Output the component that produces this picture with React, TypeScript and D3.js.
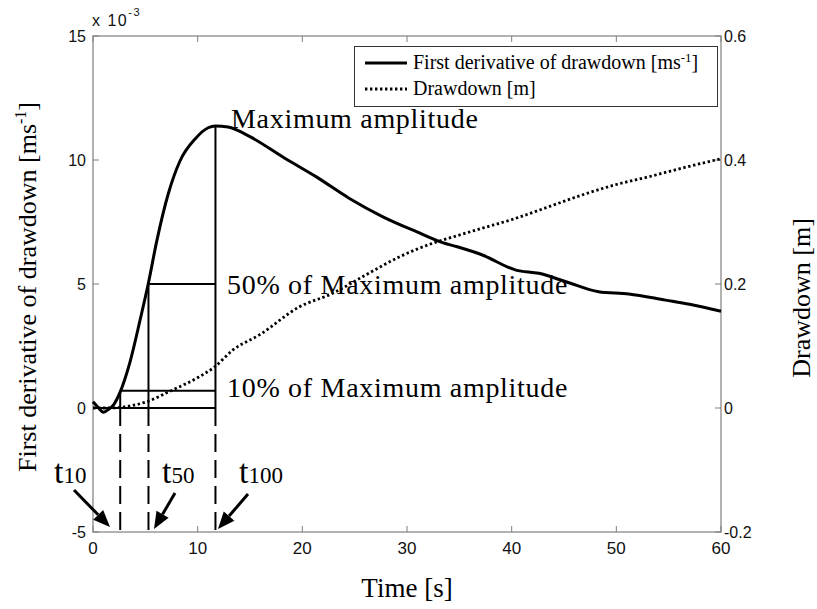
import React from "react";
import * as d3 from "d3";

// Time axis and data
const xTicks = [0, 10, 20, 30, 40, 50, 60];
const leftTicks = [-5, 0, 5, 10, 15];
const rightTicks = [-0.2, 0, 0.2, 0.4, 0.6];

// First derivative of drawdown (x 10^-3 m/s)
const derivTime = [0, 0.5, 1, 1.5, 2, 2.6, 3.5, 4.5, 5.3, 6.1, 7.2, 8.3, 9.8, 11.0, 11.7, 12.9, 15.0, 18.1, 21.3, 24.5, 27.7, 30.9, 33.4, 34.8, 37.2, 40.4, 42.6, 45.2, 48.3, 51.2, 54.7, 57.0, 60.0];
const derivValue = [0.25, 0.02, -0.17, -0.05, 0.15, 0.65, 1.8, 3.55, 5.05, 6.75, 8.65, 9.95, 10.87, 11.3, 11.37, 11.33, 10.94, 10.13, 9.33, 8.45, 7.71, 7.11, 6.67, 6.5, 6.17, 5.56, 5.43, 5.09, 4.69, 4.6, 4.35, 4.18, 3.9];

// Drawdown (m)
const drawTime = [0, 1.5, 2.6, 5.1, 7.6, 9.9, 11.6, 13.4, 15.9, 19.7, 22.9, 26.1, 29.3, 32.5, 35.0, 37.2, 40.4, 43.6, 46.8, 49.9, 53.1, 56.3, 60.0];
const drawValue = [0, 0, 0.001, 0.01, 0.029, 0.048, 0.066, 0.094, 0.118, 0.163, 0.185, 0.215, 0.244, 0.266, 0.279, 0.29, 0.306, 0.325, 0.344, 0.36, 0.373, 0.387, 0.402];

// Characteristic times and levels
const markTimes = [2.6, 5.3, 11.7]; // t10, t50, t100
const markLevels = [0.7, 5.0, 11.37]; // 10%, 50%, max
const markNames = ["10", "50", "100"];

const W = 817, H = 609;
const x = d3.scaleLinear().domain([0, 60]).range([93, 721]);
const yL = d3.scaleLinear().domain([-5, 15]).range([532, 36]);
const yR = d3.scaleLinear().domain([-0.2, 0.6]).range([532, 36]);

const SERIF = "'Liberation Serif', 'Times New Roman', serif";
const SANS = "'Liberation Sans', Arial, sans-serif";
const AX = "#7f7f7f";

function Arrow({ x1, y1, x2, y2 }: { x1: number; y1: number; x2: number; y2: number }) {
  const a = Math.atan2(y2 - y1, x2 - x1);
  const len = 17, half = 7;
  const bx = x2 - len * Math.cos(a), by = y2 - len * Math.sin(a);
  const px = -Math.sin(a) * half, py = Math.cos(a) * half;
  return (
    <g>
      <line x1={x1} y1={y1} x2={bx} y2={by} stroke="#000" strokeWidth={3} />
      <polygon points={`${x2},${y2} ${bx + px},${by + py} ${bx - px},${by - py}`} fill="#000" />
    </g>
  );
}

export default function App() {
  const derivLine = d3
    .line<number>()
    .x((_, i) => x(derivTime[i]))
    .y((d) => yL(d))
    .curve(d3.curveMonotoneX)(derivValue) as string;
  const drawLine = d3
    .line<number>()
    .x((_, i) => x(drawTime[i]))
    .y((d) => yR(d))
    .curve(d3.curveMonotoneX)(drawValue) as string;

  const y0 = yL(0);
  const yBottom = yL(-5);
  const [t10, t50, t100] = markTimes;
  const [l10, l50, lmax] = markLevels;

  return (
    <svg width={W} height={H} style={{ position: "absolute", left: 0, top: 0, background: "#fff" }}>
      <rect x={0} y={0} width={W} height={H} fill="#fff" />
      {/* axes box */}
      <rect x={x(0)} y={yL(15)} width={x(60) - x(0)} height={yL(-5) - yL(15)} fill="none" stroke={AX} strokeWidth={1.2} />
      {/* x ticks */}
      {xTicks.map((t) => (
        <g key={"xt" + t}>
          <line x1={x(t)} x2={x(t)} y1={yBottom} y2={yBottom - 6} stroke={AX} strokeWidth={1} />
          <line x1={x(t)} x2={x(t)} y1={yL(15)} y2={yL(15) + 6} stroke={AX} strokeWidth={1} />
          <text x={x(t)} y={yBottom + 22} textAnchor="middle" fontFamily={SANS} fontSize={17} fill="#111">
            {t}
          </text>
        </g>
      ))}
      {leftTicks.map((v) => (
        <g key={"yl" + v}>
          <line x1={x(0)} x2={x(0) + 6} y1={yL(v)} y2={yL(v)} stroke={AX} strokeWidth={1} />
          <text x={x(0) - 7} y={yL(v) + 6} textAnchor="end" fontFamily={SANS} fontSize={16} fill="#111">
            {v}
          </text>
        </g>
      ))}
      {rightTicks.map((v) => (
        <g key={"yr" + v}>
          <line x1={x(60)} x2={x(60) - 6} y1={yR(v)} y2={yR(v)} stroke={AX} strokeWidth={1} />
          <text x={x(60) + 3} y={yR(v) + 6} textAnchor="start" fontFamily={SANS} fontSize={16} fill="#111">
            {v}
          </text>
        </g>
      ))}
      {/* exponent */}
      <text x={x(0) - 1} y={26} fontFamily={SANS} fontSize={16} letterSpacing={1.5} fill="#111">
        x 10
        <tspan fontSize={11} dy={-10}>-3</tspan>
      </text>

      {/* marker lines */}
      <line x1={x(0)} x2={x(t100)} y1={y0} y2={y0} stroke="#000" strokeWidth={2} />
      <line x1={x(t10)} x2={x(t100)} y1={yL(l10)} y2={yL(l10)} stroke="#000" strokeWidth={2} />
      <line x1={x(t50)} x2={x(t100)} y1={yL(l50)} y2={yL(l50)} stroke="#000" strokeWidth={2} />
      <line x1={x(t10)} x2={x(t10)} y1={yL(l10)} y2={y0} stroke="#000" strokeWidth={2} />
      <line x1={x(t50)} x2={x(t50)} y1={yL(l50)} y2={y0} stroke="#000" strokeWidth={2} />
      <line x1={x(t100)} x2={x(t100)} y1={yL(lmax)} y2={y0} stroke="#000" strokeWidth={2} />
      {markTimes.map((t) => (
        <line key={"d" + t} x1={x(t)} x2={x(t)} y1={y0} y2={yBottom} stroke="#000" strokeWidth={2} strokeDasharray="18,8" />
      ))}

      {/* curves */}
      <path d={drawLine} fill="none" stroke="#000" strokeWidth={2.8} strokeDasharray="2.4,2.6" />
      <path d={derivLine} fill="none" stroke="#000" strokeWidth={3} strokeLinejoin="round" />

      {/* annotations */}
      <text x={231} y={128} fontFamily={SERIF} fontSize={28} letterSpacing={0.7} fill="#000">Maximum amplitude</text>
      <text x={227} y={294} fontFamily={SERIF} fontSize={28} letterSpacing={0.7} fill="#000">50% of Maximum amplitude</text>
      <text x={227} y={397} fontFamily={SERIF} fontSize={28} letterSpacing={0.7} fill="#000">10% of Maximum amplitude</text>

      {/* t labels */}
      {[{ x: 54, y: 483 }, { x: 162, y: 483 }, { x: 239, y: 483 }].map((p, i) => (
        <text key={"tl" + i} x={p.x} y={p.y} fontFamily={SERIF} fill="#000">
          <tspan fontSize={34}>t</tspan>
          <tspan fontSize={23}>{markNames[i]}</tspan>
        </text>
      ))}
      <Arrow x1={74} y1={490} x2={110} y2={527} />
      <Arrow x1={175} y1={493} x2={154} y2={529} />
      <Arrow x1={248} y1={494} x2={218} y2={529} />

      {/* legend */}
      <rect x={354.5} y={46.5} width={363} height={60} fill="#fff" stroke="#333" strokeWidth={1} />
      <line x1={365} x2={407} y1={63} y2={63} stroke="#000" strokeWidth={3} />
      <text x={413} y={69} fontFamily={SERIF} fontSize={20} fill="#000">
        First derivative of drawdown [ms<tspan fontSize={13} dy={-7}>-1</tspan>
        <tspan dy={7}>]</tspan>
      </text>
      <line x1={365} x2={407} y1={89} y2={89} stroke="#000" strokeWidth={2.8} strokeDasharray="2.4,2.6" />
      <text x={413} y={95} fontFamily={SERIF} fontSize={20} fill="#000">Drawdown [m]</text>

      {/* axis titles */}
      <text
        transform={`translate(36, 287) rotate(-90)`}
        textAnchor="middle"
        fontFamily={SERIF}
        fontSize={26}
        fill="#000"
      >
        First derivative of drawdown [ms<tspan fontSize={16} dy={-10}>-1</tspan>
        <tspan dy={10}>]</tspan>
      </text>
      <text transform={`translate(810, 298) rotate(-90)`} textAnchor="middle" fontFamily={SERIF} fontSize={26} fill="#000">
        Drawdown [m]
      </text>
      <text x={407} y={597} textAnchor="middle" fontFamily={SERIF} fontSize={27} fill="#000">
        Time [s]
      </text>
    </svg>
  );
}
